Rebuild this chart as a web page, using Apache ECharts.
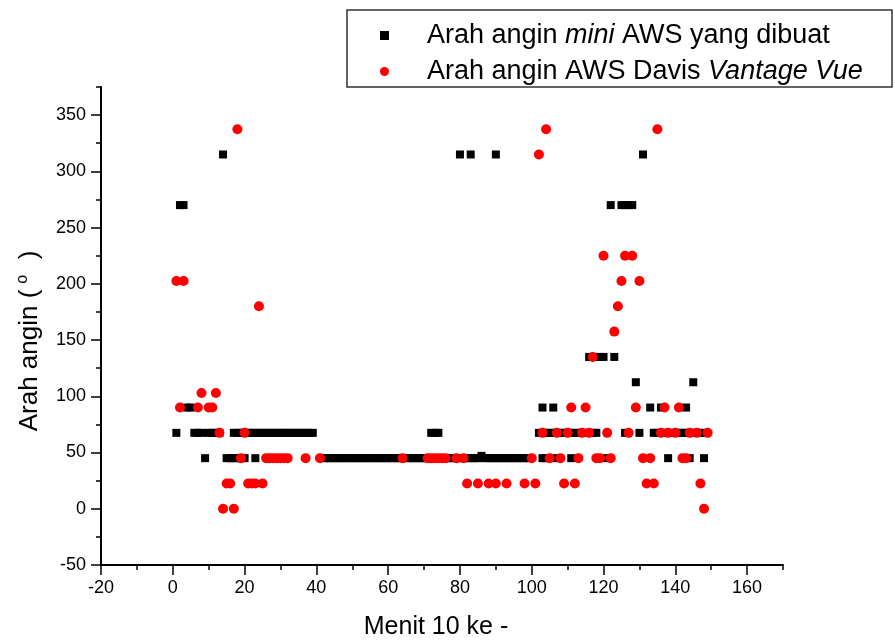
<!DOCTYPE html>
<html>
<head>
<meta charset="utf-8">
<script src="https://cdn.jsdelivr.net/npm/echarts@6/dist/echarts.min.js"></script>
<style>
html,body{margin:0;padding:0;background:#fff;}
#chart{width:895px;height:643px;}
</style>
</head>
<body>
<div id="chart"></div>
<script>
// ---- data ----
const seriesNames = ['Arah angin mini AWS yang dibuat', 'Arah angin AWS Davis Vantage Vue'];

// mini AWS (black squares)
const miniX = [
  1,2,3,4,5,6,7,8,9,10,
  11,12,13,14,15,16,17,17,18,18,
  19,19,20,20,21,22,23,23,24,25,
  26,27,28,29,30,31,32,33,34,35,
  36,37,38,39,42,43,44,45,46,47,
  48,49,50,51,52,53,54,55,56,57,
  58,59,60,61,62,63,64,65,66,67,
  68,69,70,71,72,72,73,73,74,74,
  75,76,77,78,79,80,80,81,82,83,
  83,84,85,86,87,88,89,90,90,91,
  92,93,94,95,96,97,98,99,102,103,
  103,103,104,104,105,106,106,107,107,108,
  109,110,111,111,112,113,114,115,116,116,
  117,118,119,120,121,122,123,125,126,126,
  127,128,129,130,131,133,134,135,136,136,
  137,138,138,139,140,141,142,143,143,144,
  144,145,145,146,147,148,148
];
const miniY = [
  67.5,270,270,90,90,67.5,67.5,67.5,45,67.5,
  67.5,67.5,67.5,315,45,45,45,67.5,45,67.5,
  45,67.5,45,67.5,67.5,67.5,45,67.5,67.5,67.5,
  67.5,67.5,67.5,67.5,67.5,67.5,67.5,67.5,67.5,67.5,
  67.5,67.5,67.5,67.5,45,45,45,45,45,45,
  45,45,45,45,45,45,45,45,45,45,
  45,45,45,45,45,45,45,45,45,45,
  45,45,45,45,45,67.5,45,67.5,45,67.5,
  45,45,45,45,45,45,315,45,45,45,
  315,45,45,47,45,45,45,45,315,45,
  45,45,45,45,45,45,45,45,67.5,67.5,
  90,45,67.5,45,67.5,67.5,90,67.5,45,67.5,
  67.5,67.5,67.5,45,67.5,67.5,67.5,67.5,67.5,135,
  67.5,67.5,135,135,45,270,135,270,270,67.5,
  270,270,112.5,67.5,315,90,67.5,67.5,67.5,90,
  67.5,67.5,45,67.5,67.5,67.5,67.5,67.5,90,67.5,
  45,67.5,112.5,67.5,67.5,67.5,45
];

// Davis Vantage Vue (red circles)
const davisX = [
  1,2,3,7,8,10,11,12,13,14,
  15,16,17,18,19,20,21,22,23,24,
  25,26,27,28,29,30,31,32,37,41,
  64,71,72,73,74,75,76,79,81,82,
  85,88,90,93,98,100,101,102,103,104,
  105,107,108,109,110,111,112,113,114,115,
  116,117,118,119,120,121,122,123,124,125,
  126,127,128,129,130,131,132,133,134,135,
  136,137,138,140,141,142,143,144,146,147,
  148,149
];
const davisY = [
  202.5,90,202.5,90,103,90,90,103,67.5,0,
  22.5,22.5,0,337.5,45,67.5,22.5,22.5,22.5,180,
  22.5,45,45,45,45,45,45,45,45,45,
  45,45,45,45,45,45,45,45,45,22.5,
  22.5,22.5,22.5,22.5,22.5,45,22.5,315,67.5,337.5,
  45,67.5,45,22.5,67.5,90,22.5,45,67.5,90,
  67.5,135,45,45,225,67.5,45,157.5,180,202.5,
  225,67.5,225,90,202.5,45,22.5,45,22.5,337.5,
  67.5,90,67.5,67.5,90,45,45,67.5,67.5,22.5,
  0,67.5
];

// tick labels
const xTickLabels = [-20,0,20,40,60,80,100,120,140,160];
const yTickLabels = [-50,0,50,100,150,200,250,300,350];

// ---- chart ----
const FONT = '"Liberation Sans", Arial, sans-serif';
const zip = (xs, ys) => xs.map((x, i) => [x, ys[i]]);

const chart = echarts.init(document.getElementById('chart'), null, {renderer: 'canvas'});

const axisLineStyle = {color: '#000', width: 2};
const LF = 27;

chart.setOption({
  animation: false,
  backgroundColor: '#fff',
  grid: {left: 101, top: 87, right: 112, bottom: 78, containLabel: false, outerBoundsMode: 'none'},
  legend: {
    orient: 'vertical',
    left: 380,
    top: 20,
    padding: 0,
    itemGap: 5,
    itemWidth: 9,
    itemHeight: 9,
    itemStyle: {opacity: 1},
    data: [
      {name: seriesNames[0], icon: 'rect'},
      {name: seriesNames[1], icon: 'circle'}
    ],
    formatter: function (name) {
      if (name === seriesNames[0]) {
        return '{sp| }{n|Arah angin }{i|mini}{n| AWS yang dibuat}';
      }
      return '{sp| }{n|Arah angin AWS Davis }{i|Vantage Vue}';
    },
    textStyle: {
      fontSize: LF, fontFamily: FONT, color: '#000', lineHeight: 31,
      rich: {
        sp: {width: 33, fontSize: LF, lineHeight: 31},
        n: {fontSize: LF, fontFamily: FONT, color: '#000', lineHeight: 31},
        i: {fontSize: LF, fontFamily: FONT, color: '#000', fontStyle: 'italic', lineHeight: 31}
      }
    }
  },
  graphic: [{
    type: 'rect',
    shape: {x: 347, y: 10, width: 545, height: 77},
    style: {fill: 'none', stroke: '#333', lineWidth: 1.5},
    silent: true,
    z: 100
  }],
  xAxis: [{
    type: 'value', min: -20, max: 170, interval: 10, position: 'bottom',
    axisLine: {show: true, onZero: false, lineStyle: axisLineStyle},
    axisTick: {show: true, length: 5, lineStyle: {color: '#000', width: 1.5}},
    axisLabel: {customValues: xTickLabels, fontSize: 18, fontFamily: FONT, color: '#000', margin: 14},
    splitLine: {show: false},
    name: 'Menit 10 ke -', nameLocation: 'middle', nameGap: 50,
    nameTextStyle: {fontSize: 25, fontFamily: FONT, color: '#000', padding: [0, 12, 0, 0]}
  }, {
    type: 'value', min: -20, max: 170, interval: 20, position: 'bottom',
    axisLine: {show: false, onZero: false},
    axisTick: {show: true, length: 10, customValues: xTickLabels, lineStyle: {color: '#000', width: 1.5}},
    axisLabel: {show: false},
    splitLine: {show: false}
  }],
  yAxis: [{
    type: 'value', min: -50, max: 375, interval: 25, position: 'left',
    axisLine: {show: true, onZero: false, lineStyle: axisLineStyle},
    axisTick: {show: true, length: 5, lineStyle: {color: '#000', width: 1.5}},
    axisLabel: {customValues: yTickLabels, fontSize: 18, fontFamily: FONT, color: '#000', margin: 15},
    splitLine: {show: false},
    name: '{t|Arah angin (}{s|o}{t|  )}',
    nameLocation: 'middle', nameGap: 56,
    nameTextStyle: {
      fontSize: 26, fontFamily: FONT, color: '#000', padding: [0, 30, 0, 0],
      rich: {
        t: {fontSize: 26, fontFamily: FONT, color: '#000', lineHeight: 30},
        s: {fontSize: 16, fontFamily: FONT, color: '#000', verticalAlign: 'top', lineHeight: 14, padding: [0, 1, 0, 6]}
      }
    }
  }, {
    type: 'value', min: -50, max: 375, interval: 50, position: 'left',
    axisLine: {show: false, onZero: false},
    axisTick: {show: true, length: 10, customValues: yTickLabels, lineStyle: {color: '#000', width: 1.5}},
    axisLabel: {show: false},
    splitLine: {show: false}
  }],
  series: [{
    name: seriesNames[0],
    type: 'scatter',
    xAxisIndex: 0, yAxisIndex: 0,
    symbol: 'rect',
    symbolSize: 8,
    itemStyle: {color: '#000', opacity: 1},
    data: zip(miniX, miniY),
    z: 2
  }, {
    name: seriesNames[1],
    type: 'scatter',
    xAxisIndex: 0, yAxisIndex: 0,
    symbol: 'circle',
    symbolSize: 10,
    itemStyle: {color: '#ff0000', opacity: 1},
    data: zip(davisX, davisY),
    z: 3
  }]
});
</script>
</body>
</html>
